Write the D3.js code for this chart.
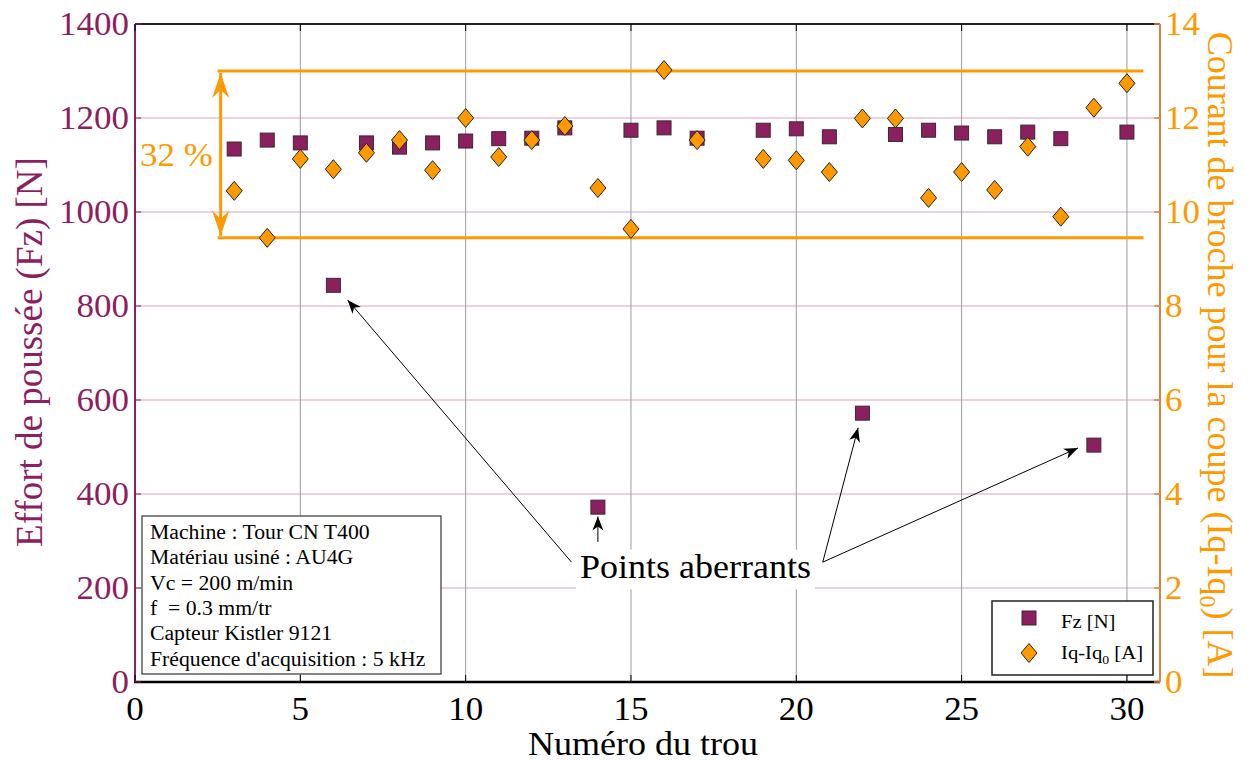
<!DOCTYPE html>
<html>
<head>
<meta charset="utf-8">
<script src="https://cdn.jsdelivr.net/npm/d3@7"></script>
<style>
  html, body { margin: 0; padding: 0; background: #fff; }
  svg, svg text { font-family: "Liberation Serif", "Times New Roman", Times, serif; }
</style>
</head>
<body>
<svg id="chart" width="1260" height="762" font-family="Liberation Serif, Times New Roman, serif"></svg>
<script>
// ---- data ----
const holes = [3,4,5,6,7,8,9,10,11,12,13,14,15,16,17,19,20,21,22,23,24,25,26,27,28,29,30];
const fzValues = [1134,1153,1147,844,1147,1138,1147,1151,1156,1157,1179,372,1174,1179,1157,1174,1177,1160,572,1165,1174,1168,1160,1170,1156,504,1170];
const iqValues = [10.45,9.45,11.13,10.91,11.26,11.53,10.89,12.0,11.17,11.53,11.83,10.51,9.64,13.02,11.53,11.13,11.10,10.85,11.99,11.99,10.30,10.85,10.47,11.39,9.90,12.22,12.74];
const xTicks = [0,5,10,15,20,25,30];
const yLeftTicks = [0,200,400,600,800,1000,1200,1400];
const yRightTicks = [0,2,4,6,8,10,12,14];
const bandLevels = [13.0, 9.45];          // orange reference lines (A)
const bandRange = [2.5, 30.5];            // x extent of reference lines
const bandLabel = "32 %";
const infoLines = ["Machine : Tour CN T400","Matériau usiné : AU4G","Vc = 200 m/min","f  = 0.3 mm/tr","Capteur Kistler 9121","Fréquence d'acquisition : 5 kHz"];
// annotation arrows: [fromX, fromFz, toX, toFz] in data units
const outlierArrows = [
  [13.2, 255, 6.43, 813],
  [14.0, 298, 14.0, 352],
  [20.8, 255, 21.87, 541],
  [20.8, 255, 28.52, 498]
];
const outlierLabel = "Points aberrants";

// ---- layout ----
const W = 1260, H = 762;
const m = {left: 135, right: 1160, top: 24, bottom: 682};
const purple = "#8c1f5f", orange = "#ff9900", axisOrange = "#e0823a";
const FONT = "Liberation Serif, Times New Roman, serif";
const SX = 1.06; // slight horizontal stretch of the original figure's text

const svg = d3.select("#chart");
const x = d3.scaleLinear().domain([0, 31]).range([m.left, m.right]);
const yL = d3.scaleLinear().domain([0, 1400]).range([m.bottom, m.top]);
const yR = d3.scaleLinear().domain([0, 14]).range([m.bottom, m.top]);

function hText(parent, px, py, size, anchor, fill) {
  return parent.append("text")
    .attr("transform", `translate(${px},${py}) scale(${SX},1)`)
    .attr("font-family", FONT).attr("font-size", size)
    .attr("text-anchor", anchor || "start").attr("fill", fill || "#000");
}

// defs: arrowheads
const defs = svg.append("defs");
defs.append("marker").attr("id","arrBlack").attr("viewBox","-14 -7 16 14")
  .attr("refX",0).attr("refY",0).attr("markerWidth",16).attr("markerHeight",14)
  .attr("markerUnits","userSpaceOnUse").attr("orient","auto")
  .append("path").attr("d","M0,0 L-14,-5.5 L-10,0 L-14,5.5 Z").attr("fill","#000");
defs.append("marker").attr("id","arrOrange").attr("viewBox","-26 -10 28 20")
  .attr("refX",0).attr("refY",0).attr("markerWidth",28).attr("markerHeight",20)
  .attr("markerUnits","userSpaceOnUse").attr("orient","auto-start-reverse")
  .append("path").attr("d","M0,0 L-25,-8.5 L-17,0 L-25,8.5 Z").attr("fill",orange);

// grid
const grid = svg.append("g");
grid.selectAll(".hg").data(yLeftTicks.filter(d => d > 0 && d < 1400)).join("line")
  .attr("x1", m.left).attr("x2", m.right).attr("y1", d => yL(d)).attr("y2", d => yL(d))
  .attr("stroke", "#d6a3c3").attr("stroke-width", 1);
grid.selectAll(".vg").data(xTicks.filter(d => d > 0)).join("line")
  .attr("x1", d => x(d)).attr("x2", d => x(d)).attr("y1", m.top).attr("y2", m.bottom)
  .attr("stroke", "#9a9a9a").attr("stroke-width", 1);

// orange reference lines
svg.append("g").selectAll("line").data(bandLevels).join("line")
  .attr("x1", x(bandRange[0])).attr("x2", x(bandRange[1]))
  .attr("y1", d => yR(d)).attr("y2", d => yR(d))
  .attr("stroke", orange).attr("stroke-width", 3);
svg.append("line")
  .attr("x1", x(bandRange[0]) + 3).attr("x2", x(bandRange[0]) + 3)
  .attr("y1", yR(bandLevels[0]) + 2).attr("y2", yR(bandLevels[1]) - 2)
  .attr("stroke", orange).attr("stroke-width", 3)
  .attr("marker-start", "url(#arrOrange)").attr("marker-end", "url(#arrOrange)");
hText(svg, 140, yR((bandLevels[0] + bandLevels[1]) / 2) + 12, 33, "start", orange).text(bandLabel);

// annotation
const ann = svg.append("g");
const lblX = x(16.95), lblY = yL(222);
ann.selectAll("line").data(outlierArrows).join("line")
  .attr("x1", d => x(d[0])).attr("y1", d => yL(d[1]))
  .attr("x2", d => x(d[2])).attr("y2", d => yL(d[3]))
  .attr("stroke", "#000").attr("stroke-width", 1)
  .attr("marker-end", "url(#arrBlack)");
const lblText = hText(ann, lblX, lblY, 34, "middle", "#000").text(outlierLabel);
const bb = lblText.node().getBBox();
const bw = bb.width * SX;
ann.insert("rect", "text").attr("x", lblX - bw / 2 - 4).attr("y", lblY + bb.y + 2)
  .attr("width", bw + 8).attr("height", bb.height + 2).attr("fill", "#fff");

// markers
const pts = holes.map((h, i) => ({h, fz: fzValues[i], iq: iqValues[i]}));
svg.append("g").selectAll("rect").data(pts.filter(d => d.fz != null)).join("rect")
  .attr("x", d => x(d.h) - 7).attr("y", d => yL(d.fz) - 7).attr("width", 14).attr("height", 14)
  .attr("fill", purple).attr("stroke", "#3a2a30").attr("stroke-width", 1);
const diamond = (cx, cy) => `M${cx},${cy-9.5} L${cx+8},${cy} L${cx},${cy+9.5} L${cx-8},${cy} Z`;
svg.append("g").selectAll("path").data(pts.filter(d => d.iq != null)).join("path")
  .attr("d", d => diamond(x(d.h), yR(d.iq)))
  .attr("fill", orange).attr("stroke", "#222").attr("stroke-width", 1);

// info box
const info = svg.append("g");
info.append("rect").attr("x", 142).attr("y", 516).attr("width", 299).attr("height", 158)
  .attr("fill", "#fff").attr("stroke", "#333").attr("stroke-width", 1.2);
infoLines.forEach((line, i) => {
  hText(info, 150, 539 + i * 25.3, 20.5, "start", "#000").attr("xml:space", "preserve").text(line);
});

// legend
const lg = svg.append("g");
lg.append("rect").attr("x", 992).attr("y", 601).attr("width", 161).attr("height", 74)
  .attr("fill", "#fff").attr("stroke", "#222").attr("stroke-width", 1.5);
lg.append("rect").attr("x", 1029 - 7).attr("y", 618 - 7).attr("width", 14).attr("height", 14)
  .attr("fill", purple).attr("stroke", "#3a2a30");
lg.append("path").attr("d", diamond(1029, 653)).attr("fill", orange).attr("stroke", "#222");
hText(lg, 1061, 628, 19.5, "start", "#000").text("Fz [N]");
const lt = hText(lg, 1061, 659, 19.5, "start", "#000");
lt.append("tspan").text("Iq-Iq");
lt.append("tspan").attr("dy", 5).attr("font-size", 13).text("0");
lt.append("tspan").attr("dy", -5).text(" [A]");

// axes frame
svg.append("line").attr("x1", m.left).attr("x2", m.right).attr("y1", m.top).attr("y2", m.top)
  .attr("stroke", "#222").attr("stroke-width", 2);
svg.append("line").attr("x1", m.left - 1).attr("x2", m.right).attr("y1", m.bottom).attr("y2", m.bottom)
  .attr("stroke", "#000").attr("stroke-width", 2.5);
svg.append("line").attr("x1", m.left).attr("x2", m.left).attr("y1", m.top).attr("y2", m.bottom)
  .attr("stroke", purple).attr("stroke-width", 2);
svg.append("line").attr("x1", m.right).attr("x2", m.right).attr("y1", m.top).attr("y2", m.bottom)
  .attr("stroke", axisOrange).attr("stroke-width", 2);

// x ticks + labels
const xt = svg.append("g");
xt.selectAll(".tb").data(xTicks).join("line").attr("x1", d => x(d)).attr("x2", d => x(d))
  .attr("y1", m.bottom).attr("y2", m.bottom - 7).attr("stroke", "#000").attr("stroke-width", 1);
xt.selectAll(".tt").data(xTicks).join("line").attr("class","tt").attr("x1", d => x(d)).attr("x2", d => x(d))
  .attr("y1", m.top).attr("y2", m.top + 7).attr("stroke", "#000").attr("stroke-width", 1);
xTicks.forEach(d => hText(xt, x(d), 720, 33, "middle", "#000").text(d));

// left ticks + labels
const yl = svg.append("g");
yl.selectAll("line").data(yLeftTicks).join("line").attr("x1", m.left).attr("x2", m.left + 6)
  .attr("y1", d => yL(d)).attr("y2", d => yL(d)).attr("stroke", purple).attr("stroke-width", 1);
yLeftTicks.forEach(d => hText(yl, 129, yL(d) + 11, 33, "end", purple).text(d));

// right ticks + labels
const yr = svg.append("g");
yr.selectAll("line").data(yRightTicks).join("line").attr("x1", m.right - 6).attr("x2", m.right)
  .attr("y1", d => yR(d)).attr("y2", d => yR(d)).attr("stroke", axisOrange).attr("stroke-width", 1.5);
yRightTicks.forEach(d => hText(yr, 1165, yR(d) + 11, 33, "start", orange).text(d));

// axis titles
hText(svg, 643, 755, 34, "middle", "#000").text("Numéro du trou");
svg.append("text").attr("transform", `translate(42,352) rotate(-90)`)
  .attr("font-family", FONT).attr("text-anchor", "middle").attr("font-size", 37).attr("fill", purple)
  .text("Effort de poussée (Fz) [N]");
const rt = svg.append("text").attr("transform", `translate(1208,355) rotate(90)`)
  .attr("font-family", FONT).attr("text-anchor", "middle").attr("font-size", 36).attr("fill", orange);
rt.append("tspan").text("Courant de broche pour la coupe (Iq-Iq");
rt.append("tspan").attr("dy", 8).attr("font-size", 24).text("0");
rt.append("tspan").attr("dy", -8).text(") [A]");
</script>
</body>
</html>
